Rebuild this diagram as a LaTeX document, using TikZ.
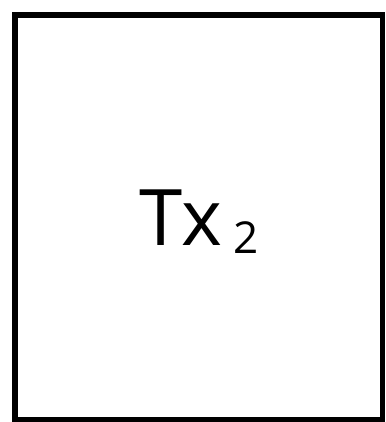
\documentclass[tikz,border=0pt]{standalone}
\usepackage{fontspec}
\setmainfont{Open Sans}
\usetikzlibrary{positioning}

\tikzset{
  txbox/.style={draw=black, line width=5.5pt},
  txlabel/.style={inner sep=0pt, font=\fontsize{78}{78}\selectfont}
}

\begin{document}
\begin{tikzpicture}[x=1pt, y=-1pt]
    \useasboundingbox (0,0) rectangle (385,422);
    % frame
    \draw[txbox] (15,15) rectangle (382.25,419.25);
    \coordinate (mid) at (199,222);
    \node[txlabel] (tx) at (mid) {Tx\hspace{11pt}\raisebox{-8pt}{\fontsize{44}{44}\selectfont 2}};
\end{tikzpicture}
\end{document}
